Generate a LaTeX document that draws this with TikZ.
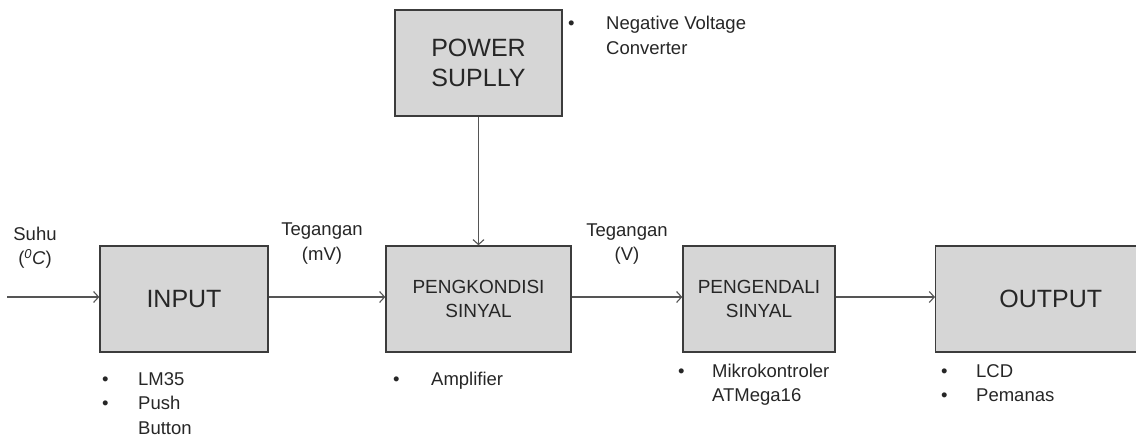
\documentclass[tikz,border=0pt]{standalone}
\usepackage{fontspec}
\setmainfont{Liberation Sans}
\usetikzlibrary{arrows.meta}
\definecolor{boxfill}{RGB}{214,214,214}
\definecolor{boxline}{RGB}{60,60,60}
\definecolor{wire}{RGB}{85,85,85}
\begin{document}
\begin{tikzpicture}[x=1pt,y=-1pt,
  blk/.style={draw=boxline,fill=boxfill,line width=1.4pt,minimum height=106pt,inner sep=0pt,align=center,text=black!85},
  big/.style={font=\fontsize{25}{30}\selectfont},
  mid/.style={font=\fontsize{19}{24.5}\selectfont},
  lbl/.style={font=\fontsize{18.5}{24.5}\selectfont,align=center,anchor=base,inner sep=0pt,text=black!85},
  lst/.style={font=\fontsize{18.5}{24.5}\selectfont,anchor=base west,inner sep=0pt,text=black!85},
  flow/.style={draw=wire,line width=1.5pt,-{Straight Barb[length=5pt,width=11pt,line width=1.1pt]}}]
\useasboundingbox (0,0) rectangle (1136,439);
\node[blk,big,minimum width=168pt] (input) at (184,299) {INPUT};
\node[blk,mid,minimum width=185pt] (kond) at (478.5,299) {PENGKONDISI\\SINYAL};
\node[blk,big,minimum width=167pt] (power) at (478.5,63) {POWER\\SUPLLY};
\node[blk,mid,minimum width=152pt] (kendali) at (759,299) {PENGENDALI\\SINYAL};
\node[blk,big,minimum width=210pt,anchor=west] (output) at (935,299) {\hspace*{20pt}OUTPUT};
\coordinate (src) at (7,297);
\draw[flow] (src) -- (input.west|-src);
\draw[flow] (input.east|-src) -- (kond.west|-src);
\draw[flow] (kond.east|-src) -- (kendali.west|-src);
\draw[flow] (kendali.east|-src) -- (output.west|-src);
\draw[flow] (power.south) -- (kond.north);
\node[lbl] (suhu) at (35,264.5) {Suhu\\(\textsuperscript{\textit{0}}\textit{C})};
\node[lbl] (tmv) at (322,260) {Tegangan\\(mV)};
\node[lbl] (tv) at (627,260.5) {Tegangan\\(V)};
\node[lst] (l1) at (102,385) {\begin{tabular}[t]{@{}p{36pt}@{}l@{}}\textbullet & LM35\\ \textbullet & Push\\ & Button\end{tabular}};
\node[lst] (l2) at (393,385) {\begin{tabular}[t]{@{}p{38pt}@{}l@{}}\textbullet & Amplifier\end{tabular}};
\node[lst] (l3) at (678,377) {\begin{tabular}[t]{@{}p{34pt}@{}l@{}}\textbullet & Mikrokontroler\\ & ATMega16\end{tabular}};
\node[lst] (l4) at (941,377) {\begin{tabular}[t]{@{}p{35pt}@{}l@{}}\textbullet & LCD\\ \textbullet & Pemanas\end{tabular}};
\node[lst] (l5) at (568,30) {\begin{tabular}[t]{@{}p{38pt}@{}l@{}}\textbullet & Negative Voltage\\ & Converter\end{tabular}};
\end{tikzpicture}
\end{document}
